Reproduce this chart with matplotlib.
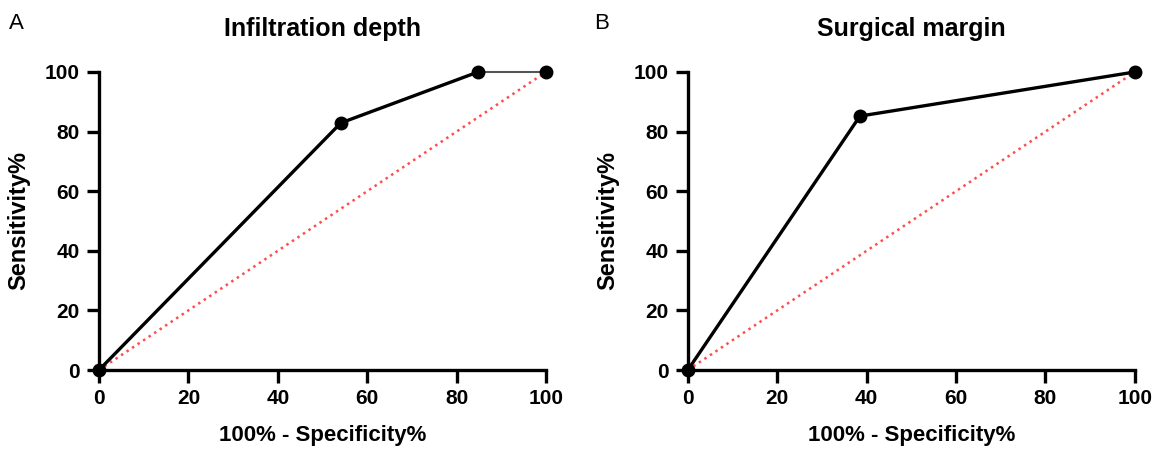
import numpy as np
import matplotlib.pyplot as plt

plt.rcParams['font.family'] = ['Liberation Sans', 'DejaVu Sans']

# ROC-pisteet (100% - specificity, sensitivity)
depth_x = [0, 54.1, 84.8, 100]
depth_y = [0, 82.9, 100, 100]
margin_x = [0, 38.5, 100]
margin_y = [0, 85.2, 100]
ref_x = [0, 100]
ref_y = [0, 100]

titles = ["Infiltration depth", "Surgical margin"]
letters = ["A", "B"]
ticks = [0, 20, 40, 60, 80, 100]

fig = plt.figure(figsize=(11.58, 4.51), dpi=100)
ax1 = fig.add_axes([0.0855, 0.1796, 0.386, 0.6608])
ax2 = fig.add_axes([0.594, 0.1796, 0.386, 0.6608])


def muotoile(ax, title, letter, left):
    ax.set_xlim(0, 100)
    ax.set_ylim(0, 100)
    ax.set_xticks(ticks)
    ax.set_yticks(ticks)
    for s in ["top", "right"]:
        ax.spines[s].set_visible(False)
    for s in ["left", "bottom"]:
        ax.spines[s].set_linewidth(2.4)
    ax.tick_params(width=2.4, length=9, labelsize=15, pad=5)
    for lab in ax.get_xticklabels() + ax.get_yticklabels():
        lab.set_fontweight("bold")
    ax.set_xlabel("100% - Specificity%", fontsize=16, fontweight="bold", labelpad=12)
    ax.set_ylabel("Sensitivity%", fontsize=17, fontweight="bold", labelpad=10)
    ax.set_title(title, fontsize=18, fontweight="bold", pad=26)
    fig.text(left, 0.948, letter, fontsize=16, va="center", ha="left")


# A
ax1.plot(ref_x, ref_y, ":", color="#ff4d4d", lw=1.8, clip_on=False, zorder=2)
ax1.plot(depth_x[:3], depth_y[:3], "-", color="black", lw=2.4, clip_on=False, zorder=3)
ax1.plot(depth_x[2:], depth_y[2:], "-", color="#555555", lw=1.5, clip_on=False, zorder=3)
ax1.plot(depth_x, depth_y, "o", color="black", markersize=9, clip_on=False, zorder=4)
muotoile(ax1, titles[0], letters[0], 0.008)

# B
ax2.plot(ref_x, ref_y, ":", color="#ff4d4d", lw=1.8, clip_on=False, zorder=2)
ax2.plot(margin_x, margin_y, "-o", color="black", lw=2.4, markersize=9, clip_on=False, zorder=3)
muotoile(ax2, titles[1], letters[1], 0.513)

fig.savefig("out.png", dpi=100)
